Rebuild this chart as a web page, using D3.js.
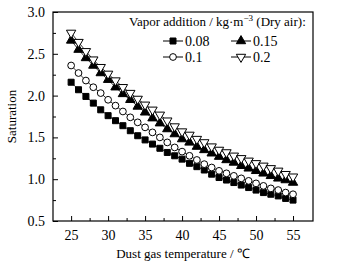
<!DOCTYPE html>
<html>
<head>
<meta charset="utf-8">
<script src="https://cdn.jsdelivr.net/npm/d3@7"></script>
<style>
  body { margin: 0; background: #fff; }
</style>
</head>
<body>
<div id="chart"></div>
<script>
// Data
const temperatures = d3.range(25, 56);
const seriesNames = ["0.08", "0.1", "0.15", "0.2"];
const sat008 = [2.16, 2.07, 1.99, 1.91, 1.83, 1.76, 1.70, 1.64, 1.58, 1.52, 1.47, 1.42, 1.37, 1.32, 1.28, 1.24,
    1.19, 1.15, 1.11, 1.06, 1.02, 0.99, 0.96, 0.93, 0.90, 0.87, 0.84, 0.82, 0.80, 0.77, 0.75];
const sat010 = [2.36, 2.27, 2.18, 2.10, 2.03, 1.95, 1.88, 1.81, 1.74, 1.68, 1.62, 1.56, 1.50, 1.44, 1.38, 1.33,
    1.28, 1.23, 1.18, 1.14, 1.10, 1.07, 1.04, 1.01, 0.98, 0.95, 0.92, 0.89, 0.87, 0.84, 0.82];
const sat015 = [2.66, 2.55, 2.45, 2.36, 2.27, 2.19, 2.10, 2.02, 1.95, 1.87, 1.80, 1.73, 1.67, 1.60, 1.54, 1.48,
    1.44, 1.39, 1.35, 1.31, 1.27, 1.23, 1.20, 1.16, 1.13, 1.10, 1.07, 1.04, 1.01, 0.99, 0.96];
const sat020 = [2.75, 2.64, 2.53, 2.43, 2.34, 2.26, 2.18, 2.10, 2.03, 1.96, 1.89, 1.83, 1.77, 1.70, 1.63, 1.57,
    1.53, 1.48, 1.44, 1.39, 1.35, 1.32, 1.28, 1.25, 1.22, 1.19, 1.16, 1.13, 1.10, 1.06, 1.03];
const xTicks = [25, 30, 35, 40, 45, 50, 55];
const yTicks = [0.5, 1.0, 1.5, 2.0, 2.5, 3.0];

const seriesValues = [sat008, sat010, sat015, sat020];
const markerTypes = ["square", "circle", "triangleUp", "triangleDown"];
const serif = "'Liberation Serif'";

// Dimensions
const dimensions = {
    width: 337,
    height: 268,
    margin: { top: 12, right: 24, bottom: 47, left: 53 }
};
dimensions.containerWidth = dimensions.width - dimensions.margin.left - dimensions.margin.right;
dimensions.containerHeight = dimensions.height - dimensions.margin.top - dimensions.margin.bottom;

const svg = d3.select("#chart")
    .append("svg")
    .attr("width", dimensions.width)
    .attr("height", dimensions.height);

const container = svg.append("g")
    .attr("transform", `translate(${dimensions.margin.left}, ${dimensions.margin.top})`);

// Scales
const xScale = d3.scaleLinear()
    .domain([22.55, 57.7])
    .range([0, dimensions.containerWidth]);

const yScale = d3.scaleLinear()
    .domain([0.5, 3.0])
    .range([dimensions.containerHeight, 0]);

// Axes (ticks pointing inward)
const xAxis = d3.axisBottom(xScale)
    .tickValues(xTicks)
    .tickSize(-5)
    .tickPadding(9)
    .tickFormat(d3.format("d"));

const xMinor = d3.axisBottom(xScale)
    .tickValues(d3.range(27.5, 55, 5))
    .tickSize(-3)
    .tickFormat("");

const yAxis = d3.axisLeft(yScale)
    .tickValues(yTicks)
    .tickSize(-5)
    .tickPadding(8)
    .tickFormat(d3.format(".1f"));

const yMinor = d3.axisLeft(yScale)
    .tickValues(d3.range(0.75, 3.0, 0.5))
    .tickSize(-3)
    .tickFormat("");

function styleAxis(g) {
    g.attr("font-family", serif);
    g.select(".domain").remove();
    g.selectAll(".tick line").attr("stroke", "#000").attr("stroke-width", 1);
    g.selectAll(".tick text")
        .attr("font-family", serif)
        .attr("font-size", 14)
        .attr("fill", "#000");
}

container.append("g")
    .attr("transform", `translate(0, ${dimensions.containerHeight})`)
    .call(xAxis).call(styleAxis);
container.append("g")
    .attr("transform", `translate(0, ${dimensions.containerHeight})`)
    .call(xMinor).call(styleAxis);
container.append("g").call(yAxis).call(styleAxis);
container.append("g").call(yMinor).call(styleAxis);

// Frame
container.append("rect")
    .attr("width", dimensions.containerWidth)
    .attr("height", dimensions.containerHeight)
    .attr("fill", "none")
    .attr("stroke", "#000")
    .attr("stroke-width", 1.2);

// Axis labels
svg.append("text")
    .attr("x", dimensions.margin.left + dimensions.containerWidth / 2)
    .attr("y", 258)
    .attr("text-anchor", "middle")
    .attr("font-family", serif)
    .attr("font-size", 13)
    .text("Dust gas temperature / ℃");

svg.append("text")
    .attr("transform", `translate(16, ${dimensions.margin.top + dimensions.containerHeight / 2}) rotate(-90)`)
    .attr("text-anchor", "middle")
    .attr("font-family", serif)
    .attr("font-size", 13)
    .text("Saturation");

// Markers
const symbolSize = { square: 36, circle: 36, triangleUp: 38, triangleDown: 38 };
function drawMarker(g, type) {
    if (type === "triangleDown") {
        g.append("path")
            .attr("d", d3.symbol(d3.symbolTriangle, symbolSize[type])())
            .attr("transform", "rotate(180)")
            .attr("fill", "#fff")
            .attr("stroke", "#000")
            .attr("stroke-width", 1);
        return;
    }
    const sym = { square: d3.symbolSquare, circle: d3.symbolCircle, triangleUp: d3.symbolTriangle }[type];
    const filled = type === "square" || type === "triangleUp";
    g.append("path")
        .attr("d", d3.symbol(sym, symbolSize[type])())
        .attr("fill", filled ? "#000" : "#fff")
        .attr("stroke", "#000")
        .attr("stroke-width", 1);
}

const line = d3.line()
    .x((d, i) => xScale(temperatures[i]))
    .y(d => yScale(d));

seriesValues.forEach((values, s) => {
    container.append("path")
        .datum(values)
        .attr("d", line)
        .attr("fill", "none")
        .attr("stroke", "#000")
        .attr("stroke-width", 0.8);

    container.append("g")
        .selectAll("g")
        .data(values)
        .join("g")
        .attr("transform", (d, i) => `translate(${xScale(temperatures[i])}, ${yScale(d)})`)
        .each(function() { drawMarker(d3.select(this), markerTypes[s]); });
});

// Legend
const legend = svg.append("g");
legend.append("text")
    .attr("x", 129)
    .attr("y", 26)
    .attr("font-family", serif)
    .attr("font-size", 13)
    .html('Vapor addition / kg·m<tspan dy="-5" font-size="9">−3</tspan><tspan dy="5"> (Dry air):</tspan>');

const legendPos = [
    { x: 163, y: 41 },
    { x: 163, y: 57 },
    { x: 231, y: 41 },
    { x: 231, y: 57 }
];
seriesNames.forEach((name, s) => {
    const p = legendPos[s];
    const g = legend.append("g").attr("transform", `translate(${p.x}, ${p.y})`);
    g.append("line")
        .attr("x1", 0).attr("x2", 20)
        .attr("stroke", "#000").attr("stroke-width", 1);
    const m = g.append("g").attr("transform", "translate(10, 0)");
    drawMarker(m, markerTypes[s]);
    g.append("text")
        .attr("x", 22)
        .attr("y", 4.5)
        .attr("font-family", serif)
        .attr("font-size", 14)
        .text(name);
});
</script>
</body>
</html>
